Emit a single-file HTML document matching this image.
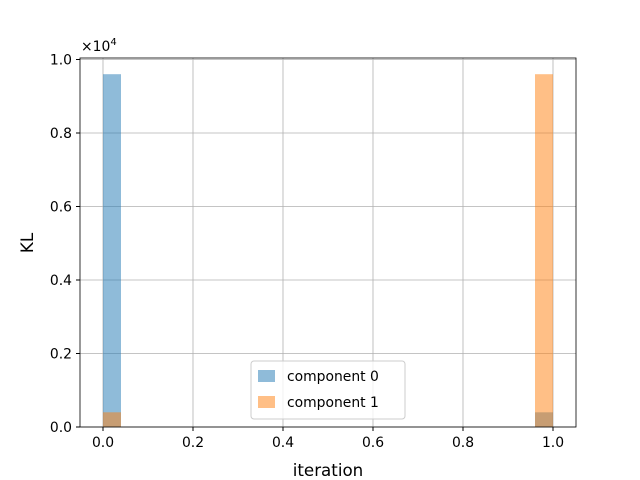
<!DOCTYPE html>
<html><head><meta charset="utf-8"><style>
body{margin:0;background:#fff;}
svg{display:block;font-family:"DejaVu Sans","Liberation Sans",sans-serif;}
</style></head><body>
<svg id="chart" width="640" height="480" viewBox="0 0 640 480">
<rect width="640" height="480" fill="#fff"/>
<g id="grid"></g>
<g id="bars"></g>
<rect x="80" y="58" width="496" height="369" fill="none" stroke="#000" stroke-width="0.8"/>
<g id="ticks" font-size="13.9"></g>
<text x="81" y="51" font-size="13.9">×10<tspan dy="-6" font-size="10">4</tspan></text>
<text x="328" y="476" font-size="16.7" text-anchor="middle">iteration</text>
<text transform="translate(33,243) rotate(-90)" font-size="16.7" text-anchor="middle">KL</text>
<g>
<rect x="251" y="361" width="154" height="58" rx="3" fill="#fff" fill-opacity="0.8" stroke="#ccc"/>
<rect x="258" y="370" width="17" height="12" fill="#1f77b4" fill-opacity="0.5"/>
<text x="287" y="381" font-size="13.9">component 0</text>
<rect x="258" y="396" width="17" height="12" fill="#ff7f0e" fill-opacity="0.5"/>
<text x="287" y="407" font-size="13.9">component 1</text>
</g>
</svg>
<script>
const binEdges = [0.0, 0.04, 0.96, 1.0];
const comp0Bins = [[0.0, 0.04, 9600], [0.96, 1.0, 400]];
const comp1Bins = [[0.0, 0.04, 400], [0.96, 1.0, 9600]];
const xTicks = [0.0, 0.2, 0.4, 0.6, 0.8, 1.0];
const yTicks = [0, 2000, 4000, 6000, 8000, 10000];
const xTickLabels = ["0.0","0.2","0.4","0.6","0.8","1.0"];
const yTickLabels = ["0.0","0.2","0.4","0.6","0.8","1.0"];
const NS="http://www.w3.org/2000/svg";
function X(v){return 103+v*450;}
function Y(v){return 427-v*367.5/10000;}
const grid=document.getElementById('grid'),ticks=document.getElementById('ticks'),bars=document.getElementById('bars');
function mk(tag,attrs,parent){const e=document.createElementNS(NS,tag);for(const k in attrs)e.setAttribute(k,attrs[k]);parent.appendChild(e);return e;}
xTicks.forEach((t,i)=>{
 const l=mk('line',{x1:X(t),x2:X(t),y1:58,y2:427,stroke:'#b0b0b0','stroke-width':0.8},grid);
 
 
 mk('line',{x1:X(t),x2:X(t),y1:427,y2:431,stroke:'#000'},ticks);
 const tx=mk('text',{x:X(t),y:447,'text-anchor':'middle'},ticks);tx.textContent=xTickLabels[i];
 
 
});
yTicks.forEach((t,i)=>{
 const l=mk('line',{x1:80,x2:576,y1:Y(t),y2:Y(t),stroke:'#b0b0b0','stroke-width':0.8},grid);
 
 
 mk('line',{x1:76,x2:80,y1:Y(t),y2:Y(t),stroke:'#000'},ticks);
 const tx=mk('text',{x:72,y:Y(t)+5,'text-anchor':'end'},ticks);tx.textContent=yTickLabels[i];
 
 
});
function drawBins(bins,color,name){
 bins.forEach(b=>{
  const r=mk('rect',{x:X(b[0]),y:Y(b[2]),width:X(b[1])-X(b[0]),height:427-Y(b[2]),fill:color,'fill-opacity':0.5},bars);
  
  
 });
}
drawBins(comp0Bins,'#1f77b4','bar-component-0');
drawBins(comp1Bins,'#ff7f0e','bar-component-1');
</script>
</body></html>
